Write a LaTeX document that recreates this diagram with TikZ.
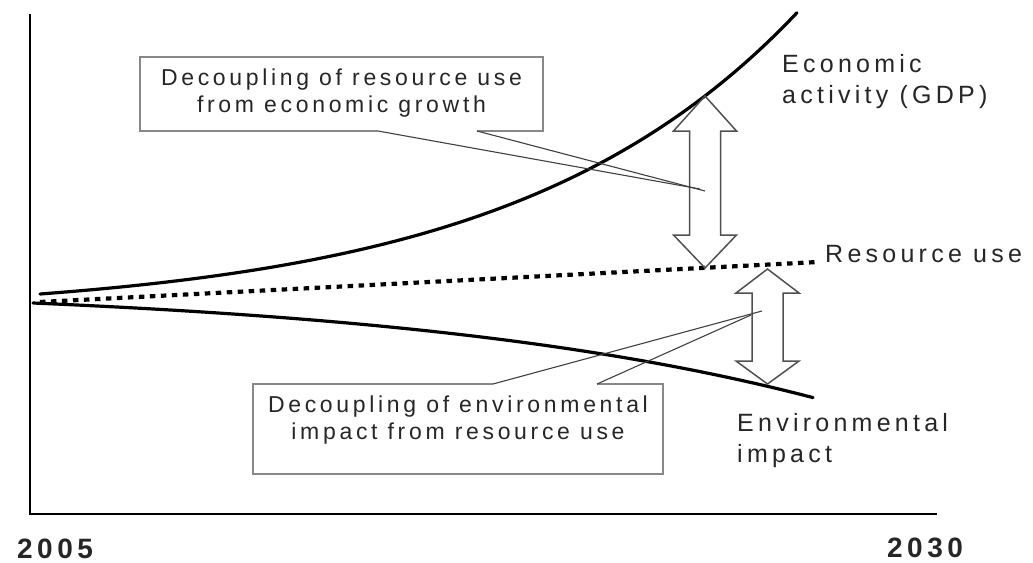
\documentclass[tikz,border=0pt]{standalone}
\usepackage{fontspec}
\setmainfont{Liberation Sans}
\newfontfamily\lblfont[LetterSpace=17]{Liberation Sans}
\newfontfamily\boxfnt[LetterSpace=16]{Liberation Sans}
\newfontfamily\yrfont[LetterSpace=16]{Liberation Sans}
\definecolor{boxgray}{HTML}{888888}
\definecolor{arrgray}{HTML}{505050}
\definecolor{txtgray}{HTML}{262626}
\tikzset{
  axisline/.style={line width=2.6pt, black},
  curveline/.style={line width=3.2pt, black, line cap=round},
  dotline/.style={line width=4.2pt, black, dash pattern=on 5.5pt off 5.5pt},
  boxline/.style={line width=1.8pt, boxgray, line join=miter},
  callline/.style={line width=1.1pt, black!75},
  dblarrow/.style={line width=1.5pt, arrgray, line join=miter},
  lbl/.style={inner sep=0pt, anchor=base west, align=left, text=txtgray, font=\lblfont\fontsize{25}{31}\selectfont},
  boxtxt/.style={inner sep=0pt, align=center, text=txtgray, font=\boxfnt\fontsize{23}{27}\selectfont},
  yr/.style={inner sep=0pt, anchor=base west, text=txtgray, font=\yrfont\bfseries\fontsize{28}{30}\selectfont},
}
\begin{document}
\begin{tikzpicture}[x=1pt, y=-1pt]
\useasboundingbox (0,0) rectangle (1033,562);
% axes
\coordinate (ytop) at (30,14);
\coordinate (orig) at (30,514);
\coordinate (xend) at (937,514);
\draw[axisline] (ytop) -- (orig) -- (xend);
% curves
\draw[curveline] plot[domain=40:797, samples=80, smooth] (\x, {294-21.5*(exp(0.0035*(\x-40))-1)});
\draw[curveline] plot[domain=33:813, samples=80, smooth] (\x, {303+18.8*(exp(0.0023*(\x-33))-1)});
\coordinate (rs) at (40,302);
\coordinate (re) at (818,262);
\draw[dotline] (rs) -- (re);
% double arrows
\draw[dblarrow] (705,96) -- (736.5,131) -- (720.5,131) -- (720.5,235) -- (736.5,235) -- (705,268)
  -- (673.5,235) -- (689.5,235) -- (689.5,131) -- (673.5,131) -- cycle;
\draw[dblarrow] (767.5,269) -- (799,293) -- (783,293) -- (783,361) -- (799,361) -- (767.5,384)
  -- (736,361) -- (752,361) -- (752,293) -- (736,293) -- cycle;
% box 1 callout
\node[boxtxt] (b1) at (341.5,93) {Decoupling of resource use\\from economic growth};
\coordinate (b1g1) at (378,131);
\coordinate (b1g2) at (477,131);
\coordinate (t1a) at (700,189);
\coordinate (t1b) at (705,191);
\draw[boxline] (b1g1) -- (140,131) -- (140,57) -- (543,57) -- (543,131) -- (b1g2);
\draw[callline] (b1g1) -- (t1a);
\draw[callline] (b1g2) -- (t1b);
% box 2 callout
\node[boxtxt] (b2) at (458,420.5) {Decoupling of environmental\\impact from resource use};
\coordinate (b2g1) at (493,384);
\coordinate (b2g2) at (597,384);
\coordinate (t2a) at (762,311);
\coordinate (t2b) at (751,315);
\draw[boxline] (b2g1) -- (253,384) -- (253,474) -- (663,474) -- (663,384) -- (b2g2);
\draw[callline] (b2g1) -- (t2a);
\draw[callline] (b2g2) -- (t2b);
% labels
\node[lbl] (gdp) at (782,103) {Economic\\activity (GDP)};
\node[lbl] (res) at (825,262) {Resource use};
\node[lbl] (env) at (737,462) {Environmental\\impact};
\node[yr] (y1) at (17,558) {2005};
\node[yr] (y2) at (887,557) {2030};
\end{tikzpicture}
\end{document}
